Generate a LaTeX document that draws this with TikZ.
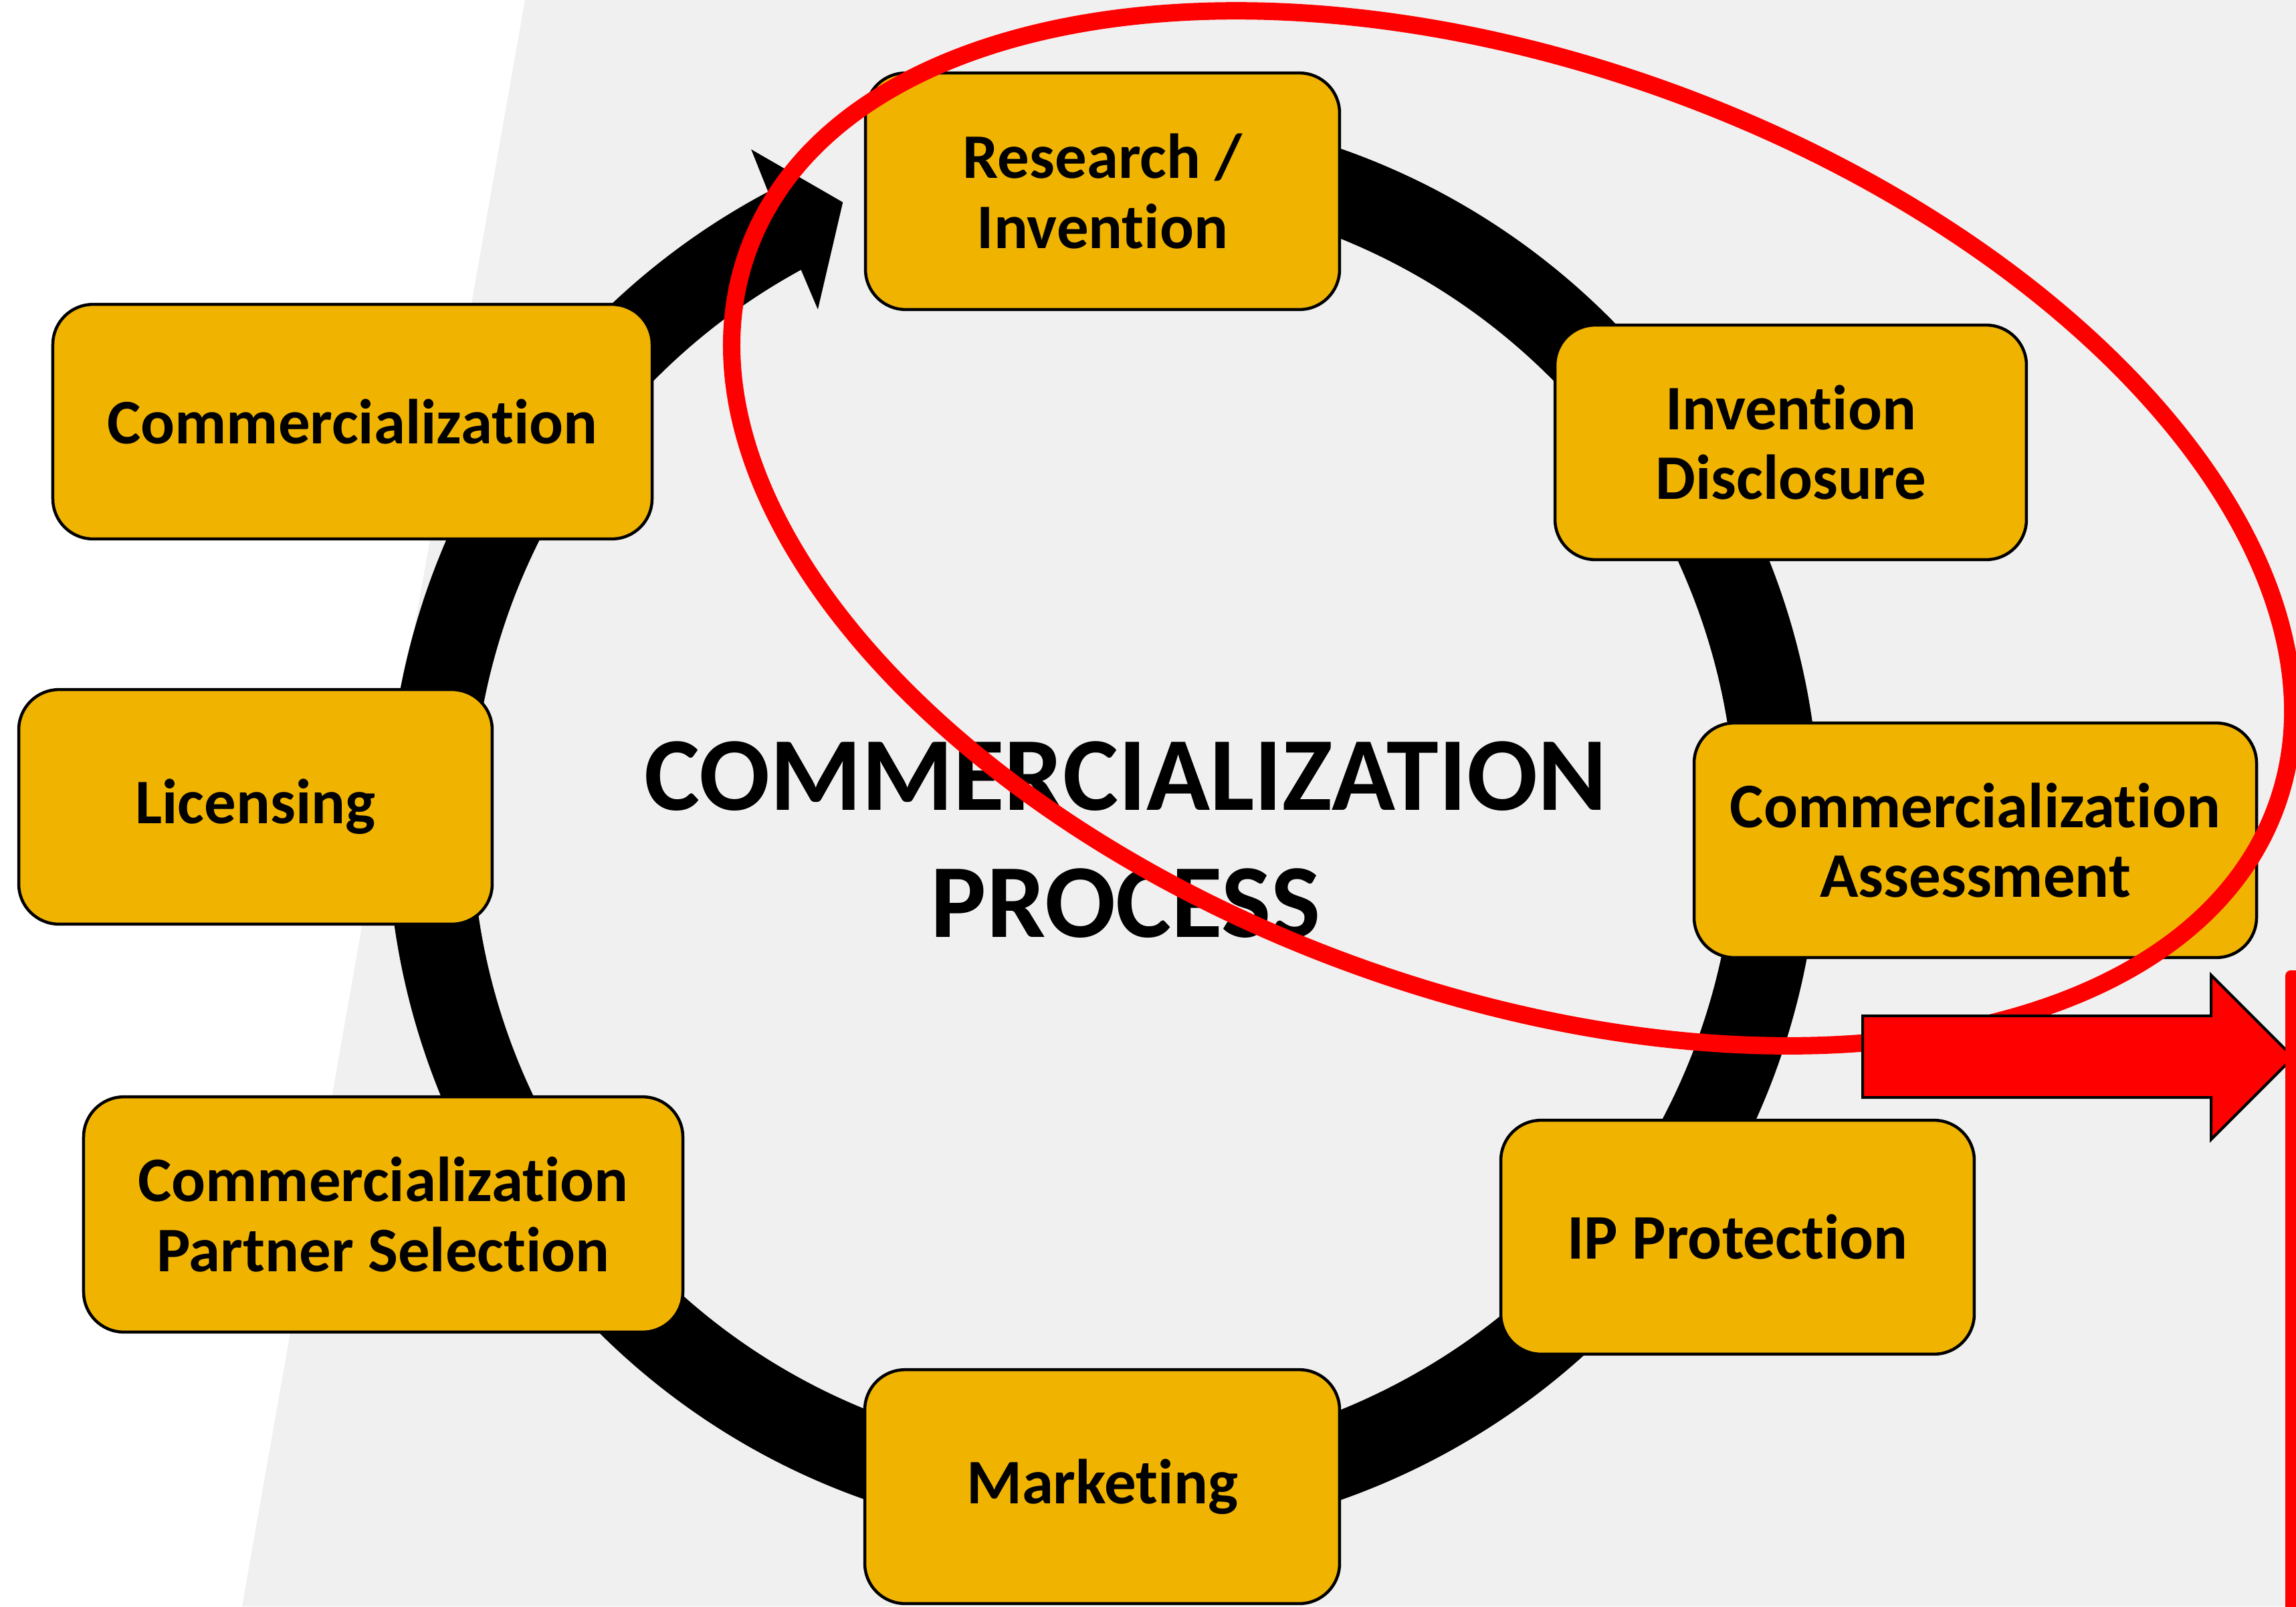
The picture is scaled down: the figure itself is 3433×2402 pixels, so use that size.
\documentclass[tikz,border=0pt]{standalone}
\usepackage{fontspec}
\setmainfont{Carlito}[RawFeature={-liga}]
\usetikzlibrary{calc}
\definecolor{boxyellow}{RGB}{240,180,0}
\definecolor{bggray}{RGB}{240,240,240}
\definecolor{pptred}{RGB}{255,0,0}
\begin{document}
\begin{tikzpicture}[x=0.01cm, y=0.01cm,
  stage/.style={draw=black, line width=0.045cm, fill=boxyellow, rounded corners=0.6cm,
    align=center, inner sep=0pt, font=\fontsize{27}{29.6}\selectfont\bfseries},
  titletext/.style={align=center, inner sep=0pt, font=\fontsize{44.6}{54}\selectfont\bfseries},
  loopring/.style={fill=black},
  bigoval/.style={draw=pptred, line width=0.26cm},
  redarrow/.style={fill=pptred, draw=black, line width=0.04cm, line join=miter},
  redbar/.style={fill=pptred, rounded corners=0.08cm}]
\useasboundingbox (0,0) rectangle (3433,-2402);
\clip (0,0) rectangle (3433,-2402);
% background
\fill[white] (0,0) rectangle (3433,-2402);
\fill[bggray] (785,0) -- (3433,0) -- (3433,-2402) -- (362,-2402) -- cycle;
% ring with arrowhead
\coordinate (C) at (1650,-1232);
\fill[loopring] ($(C)+(118.63:944)$) arc[start angle=118.63, end angle=440, radius=9.44cm]
  -- ($(C)+(80:1070)$) arc[start angle=440, end angle=117.93, radius=10.70cm]
  -- ($(C)+(117.58:1138)$) -- ($(C)+(112.75:1008)$) -- ($(C)+(119.04:880)$) -- cycle;
% stages
\node[stage, minimum width=7.085cm, minimum height=3.535cm] (research) at (1648.5,-286) {Research /\\Invention};
\node[stage, minimum width=7.045cm, minimum height=3.505cm] (disclosure) at (2677.5,-661.5) {Invention\\Disclosure};
\node[stage, minimum width=8.405cm, minimum height=3.505cm] (assessment) at (2953.5,-1256.5) {Commercialization\\Assessment};
\node[stage, minimum width=7.075cm, minimum height=3.495cm] (ipprot) at (2598,-1850) {IP Protection};
\node[stage, minimum width=7.095cm, minimum height=3.495cm] (marketing) at (1648,-2223) {Marketing};
\node[stage, minimum width=8.955cm, minimum height=3.515cm] (partner) at (573,-1816) {Commercialization\\Partner Selection};
\node[stage, minimum width=7.075cm, minimum height=3.505cm] (licensing) at (382,-1206.5) {Licensing};
\node[stage, minimum width=8.955cm, minimum height=3.505cm] (commercial) at (527,-630.5) {Commercialization};
% title
\node[titletext] (title) at (1683,-1256) {COMMERCIALIZATION\\PROCESS};
% red oval
\coordinate (E) at (2261,-790);
\draw[bigoval, rotate around={-20:(E)}] (E) ellipse [x radius=12.15cm, y radius=6.94cm];
% red arrow
\draw[redarrow] (2785,-1519) -- (3306,-1519) -- (3306,-1458) -- (3429,-1581)
  -- (3306,-1704) -- (3306,-1641) -- (2785,-1641) -- cycle;
% red bar at right edge
\fill[redbar] (3417,-1451) rectangle (3460,-2430);
\end{tikzpicture}
\end{document}
